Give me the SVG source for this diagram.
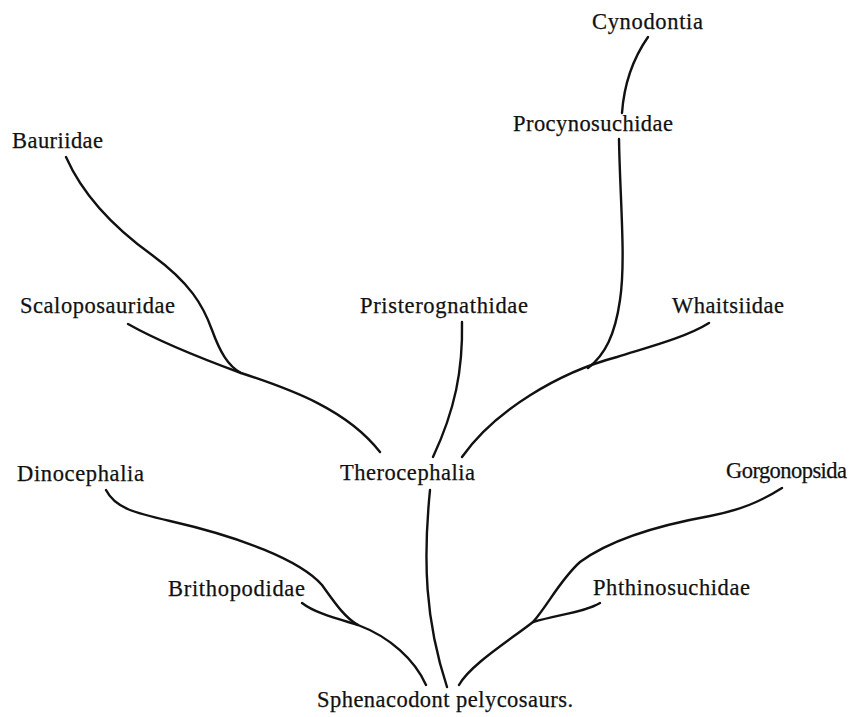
<svg xmlns="http://www.w3.org/2000/svg" width="860" height="717" viewBox="0 0 860 717">
<style>
text{font-family:"Liberation Serif","Times New Roman",serif;font-size:22.5px;fill:#111;stroke:#111;stroke-width:0.25}
.c{fill:none;stroke:#111;stroke-width:2.4;stroke-linecap:round}
</style>
<rect width="860" height="717" fill="#fff"/>
<g id="connectors">
<path class="c" d="M648,37 C632,60 624,85 622,113"/>
<path class="c" d="M619,139 C620,200 626,260 620,300 C615,335 605,355 588,368"/>
<path class="c" d="M709,323 C685,338 645,348 617,357 C560,372 495,410 462,457"/>
<path class="c" d="M462,322 C463,370 455,410 433,457"/>
<path class="c" d="M66,157 C85,200 120,232 152,255 C190,283 203,305 212,330 C220,352 228,366 241,373"/>
<path class="c" d="M128,324 C160,342 200,358 241,373 C293,390 347,410 380,452"/>
<path class="c" d="M430,490 C423,560 425,620 447,687"/>
<path class="c" d="M106,490 C115,508 135,513 170,521 C240,537 300,560 322,585 C335,603 345,618 358,625 C390,637 415,660 426,685"/>
<path class="c" d="M302,603 C315,613 335,618 358,625"/>
<path class="c" d="M782,488 C760,502 740,510 710,516 C660,525 610,540 580,562 C560,580 548,605 533,622 C510,640 470,665 459,685"/>
<path class="c" d="M600,603 C585,612 560,614 533,622"/>
</g>
<g id="cynodontia"><text x="592" y="29" textLength="111">Cynodontia</text></g>
<g id="procynosuchidae"><text x="513" y="131" textLength="160">Procynosuchidae</text></g>
<g id="bauriidae"><text x="12" y="148" textLength="91">Bauriidae</text></g>
<g id="scaloposauridae"><text x="20" y="313" textLength="155">Scaloposauridae</text></g>
<g id="pristerognathidae"><text x="360" y="313" textLength="168">Pristerognathidae</text></g>
<g id="whaitsiidae"><text x="672" y="313" textLength="112">Whaitsiidae</text></g>
<g id="dinocephalia"><text x="17" y="481" textLength="127">Dinocephalia</text></g>
<g id="therocephalia"><text x="340" y="480" textLength="135">Therocephalia</text></g>
<g id="gorgonopsida"><text x="726" y="478" textLength="121">Gorgonopsida</text></g>
<g id="brithopodidae"><text x="168" y="596" textLength="137">Brithopodidae</text></g>
<g id="phthinosuchidae"><text x="593" y="595" textLength="157">Phthinosuchidae</text></g>
<g id="sphenacodont"><text x="317" y="707" textLength="256">Sphenacodont pelycosaurs.</text></g>
</svg>
